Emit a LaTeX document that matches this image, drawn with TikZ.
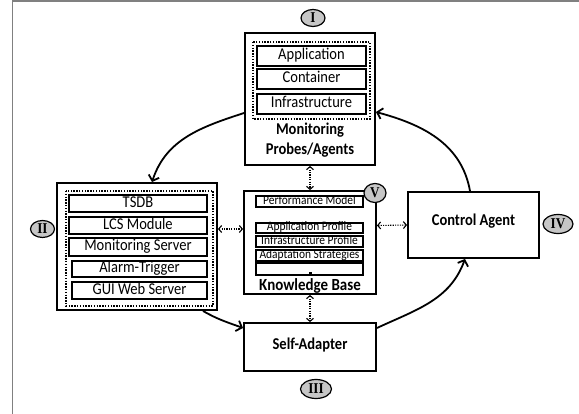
\documentclass[tikz,border=0pt]{standalone}
\usepackage{fontspec}
\setmainfont{Carlito}[FakeStretch=0.88]
\newfontfamily\numfont{Liberation Serif}[FakeStretch=0.88]
\usetikzlibrary{arrows.meta,shapes.geometric}

\begin{document}
\begin{tikzpicture}[x=1pt, y=-1pt, line width=1.6pt,
                    box/.style={draw, rectangle, inner sep=0pt, line width=1.9pt},
                    layer/.style={draw, rectangle, inner sep=0pt, line width=1.7pt,
                                  font=\fontsize{16.5}{16.5}\selectfont, text height=11.5pt, text depth=3.5pt},
                    kbitem/.style={draw, rectangle, inner sep=0pt, line width=1.1pt, minimum width=107pt,
                                   font=\fontsize{13}{13}\selectfont, text height=8pt, text depth=2pt},
                    group/.style={draw, dash pattern=on 1.4pt off 1.4pt, line width=1.4pt},
                    lbl/.style={font=\fontsize{16.5}{20}\selectfont\bfseries, inner sep=0pt, align=center},
                    phase/.style={draw, ellipse, fill=gray!45, line width=1.2pt, inner sep=0pt,
                                  minimum width=24pt, minimum height=17pt,
                                  font=\fontsize{15}{15}\selectfont\numfont\bfseries},
                    flow/.style={-{Straight Barb[length=5pt,width=11pt]}, line width=1.8pt},
                    link/.style={{Straight Barb[length=3pt,width=7pt]}-{Straight Barb[length=3pt,width=7pt]},
                                 dash pattern=on 1.2pt off 1.2pt, line width=1.1pt}]

% full canvas, with the grey frame on top and left only
\useasboundingbox (0,0) rectangle (579,414);
\draw[gray, line width=1.5pt] (12.5,414) -- (12.5,1) -- (579,1);

% ---- I: monitoring probes/agents ----
\node[box, minimum width=130pt, minimum height=132pt] (mon) at (310,99) {};
\draw[group] (253,42) rectangle (370,119);
\node[layer, minimum width=109pt, minimum height=20pt] (app)   at (311.5,56)  {Application};
\node[layer, minimum width=109pt, minimum height=20pt] (cont)  at (311.5,79)  {Container};
\node[layer, minimum width=109pt, minimum height=20pt] (infra) at (311.5,104) {Infrastructure};
\node[lbl] (monlbl) at (310,140) {Monitoring\\Probes/Agents};
\node[phase] (p1) at (313,18) {I};

% ---- II: monitoring server side ----
\node[box, minimum width=160pt, minimum height=127pt] (srv) at (137,246.5) {};
\draw[group] (66,191) rectangle (213,306);
\node[layer, minimum width=138pt, minimum height=17pt] (tsdb)  at (138,203.5) {TSDB};
\node[layer, minimum width=138pt, minimum height=17pt] (lcs)   at (138,225.5) {LCS Module};
\node[layer, minimum width=138pt, minimum height=18pt] (msrv)  at (138,247)   {Monitoring Server};
\node[layer, minimum width=135pt, minimum height=16pt] (alarm) at (139.5,269) {Alarm-Trigger};
\node[layer, minimum width=135pt, minimum height=17pt] (gui)   at (139.5,290.5) {GUI Web Server};
\node[phase] (p2) at (42.5,229) {II};

% ---- V: knowledge base ----
\node[box, minimum width=132pt, minimum height=103pt] (kb) at (310,242.5) {};
\node[kbitem, minimum height=11pt] (perf)  at (309.5,201.5) {Performance Model};
\node[kbitem, minimum height=10pt] (aprof) at (309.5,228)   {Application Profile};
\node[kbitem, minimum height=11pt] (iprof) at (309.5,241.5) {Infrastructure Profile};
\node[kbitem, minimum height=11pt] (adapt) at (309.5,255.5) {Adaptation Strategies};
\node[kbitem, minimum height=12pt] (blank) at (309.5,269)   {};
\fill (308.5,272.5) rectangle (311.5,274);
\node[lbl, font=\fontsize{17}{17}\selectfont\bfseries] (kblbl) at (310,286) {Knowledge Base};
\node[phase, minimum width=22pt, minimum height=19pt] (p5) at (375,193) {V};

% ---- IV: control agent ----
\node[box, minimum width=131pt, minimum height=66pt] (ctrl) at (473.5,225) {};
\node[lbl] (ctrllbl) at (473.5,221) {Control Agent};
\node[phase, minimum width=30pt, minimum height=19pt] (p4) at (558,224) {IV};

% ---- III: self-adapter ----
\node[box, minimum width=132pt, minimum height=48pt] (self) at (310,347) {};
\node[lbl] (selflbl) at (310,345) {Self-Adapter};
\node[phase, minimum width=31pt, minimum height=19pt] (p3) at (316,389) {III};

% ---- control loop ----
\draw[flow] ([yshift=-14pt]mon.west) to[out=198, in=72] ([xshift=15pt]srv.north);
\draw[flow] ([xshift=66pt]srv.south) to[out=-30, in=160] ([yshift=19pt]self.west);
\draw[flow] ([yshift=19pt]self.east) to[out=25, in=-110] ([xshift=-8.5pt]ctrl.south);
\draw[flow] ([xshift=-3.5pt]ctrl.north) to[out=100, in=-15] ([yshift=-13pt]mon.east);

% ---- knowledge base exchanges ----
\draw[link] (mon.south) -- (kb.north);
\draw[link] (kb.south) -- (self.north);
\draw[link] ([yshift=17.5pt]srv.east) -- ([yshift=13.5pt]kb.west);
\draw[link] ([yshift=17pt]kb.east) -- (ctrl.west);

\end{tikzpicture}
\end{document}
